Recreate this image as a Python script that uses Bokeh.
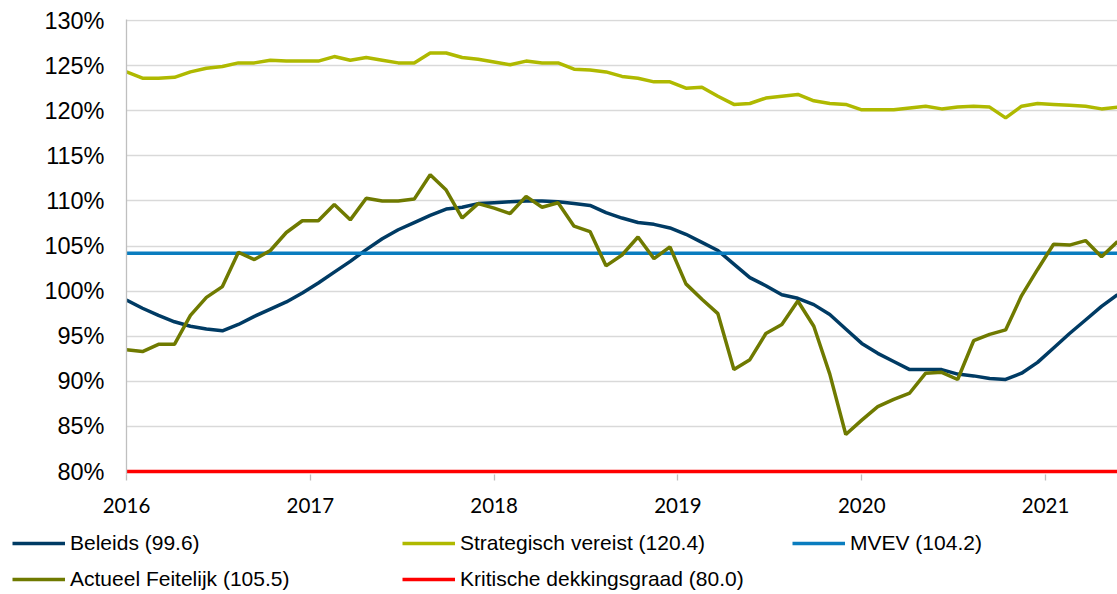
import numpy as np
from bokeh.plotting import figure
from bokeh.models import Range1d, FixedTicker, Legend, LegendItem
from bokeh.embed import file_html
from bokeh.resources import INLINE

# ---- data ----
beleids = [99.0, 98.1, 97.3, 96.6, 96.1, 95.8, 95.6, 96.3, 97.2, 98.0,
           98.8, 99.8, 100.9, 102.1, 103.3, 104.6, 105.8, 106.8, 107.6, 108.4,
           109.1, 109.3, 109.7, 109.8, 109.9, 110.0, 110.0, 109.9, 109.7, 109.5,
           108.7, 108.1, 107.6, 107.4, 107.0, 106.3, 105.4, 104.5, 103.0, 101.5,
           100.6, 99.6, 99.2, 98.5, 97.4, 95.8, 94.2, 93.1, 92.2, 91.3,
           91.3, 91.3, 90.8, 90.6, 90.3, 90.2, 90.9, 92.1, 93.7, 95.3,
           96.8, 98.3, 99.6]
strategisch = [124.3, 123.6, 123.6, 123.7, 124.3, 124.7, 124.9, 125.3, 125.3, 125.6,
               125.5, 125.5, 125.5, 126.0, 125.6, 125.9, 125.6, 125.3, 125.3, 126.4,
               126.4, 125.9, 125.7, 125.4, 125.1, 125.5, 125.3, 125.3, 124.6, 124.5,
               124.3, 123.8, 123.6, 123.2, 123.2, 122.5, 122.6, 121.6, 120.7, 120.8,
               121.4, 121.6, 121.8, 121.1, 120.8, 120.7, 120.1, 120.1, 120.1, 120.3,
               120.5, 120.2, 120.4, 120.5, 120.4, 119.2, 120.5, 120.8, 120.7, 120.6,
               120.5, 120.2, 120.4]
actueel = [93.5, 93.3, 94.1, 94.1, 97.3, 99.3, 100.5, 104.3, 103.5, 104.5,
           106.5, 107.8, 107.8, 109.6, 107.9, 110.3, 110.0, 110.0, 110.2, 112.9,
           111.2, 108.1, 109.7, 109.2, 108.6, 110.5, 109.3, 109.8, 107.2, 106.6,
           102.8, 104.0, 106.0, 103.6, 104.9, 100.8, 99.1, 97.5, 91.3, 92.4,
           95.3, 96.3, 98.9, 96.1, 90.8, 84.1, 85.7, 87.2, 88.0, 88.7,
           90.9, 91.0, 90.2, 94.5, 95.2, 95.7, 99.5, 102.4, 105.2, 105.1,
           105.6, 103.8, 105.5]
mvev_value = 104.2
kritisch_value = 80.0

series_names = ["Beleids (99.6)", "Strategisch vereist (120.4)", "MVEV (104.2)",
                "Actueel Feitelijk (105.5)", "Kritische dekkingsgraad (80.0)"]
series_colors = ["#003b64", "#afb900", "#0a7dbf", "#6f7a00", "#ff0000"]
x_ticks = [2016, 2017, 2018, 2019, 2020, 2021]
x_tick_labels = ["2016", "2017", "2018", "2019", "2020", "2021"]
y_ticks = [80, 85, 90, 95, 100, 105, 110, 115, 120, 125, 130]
y_tick_labels = ["80%", "85%", "90%", "95%", "100%", "105%", "110%", "115%", "120%", "125%", "130%"]

periods = np.arange(len(beleids))
xs = 2016 + periods / 11.5
mvev = [mvev_value] * len(xs)
kritisch = [kritisch_value] * len(xs)

MAIN_H = 526
LEG_H = 594 - MAIN_H

p = figure(width=1117, height=MAIN_H, output_backend="svg", toolbar_location=None,
           min_border_left=126, min_border_right=0, min_border_top=19,
           min_border_bottom=MAIN_H - 474)
p.x_range = Range1d(2016, float(xs[-1]))
p.y_range = Range1d(80 - 3 / 9.02, 130 + 1 / 9.02)
p.outline_line_color = None
p.background_fill_color = "white"

# axes
p.xaxis.ticker = FixedTicker(ticks=x_ticks)
p.xaxis.major_label_overrides = {t: l for t, l in zip(x_ticks, x_tick_labels)}
p.xaxis.axis_line_color = None
p.xaxis.major_tick_line_color = "#bfbfbf"
p.xaxis.major_tick_line_width = 1.3
p.xaxis.major_tick_out = 6
p.xaxis.major_tick_in = 0
p.xaxis.minor_tick_line_color = None
p.xaxis.major_label_standoff = 17
p.xaxis.major_label_text_font = "Lato"
p.xaxis.major_label_text_font_size = "20.5px"
p.xaxis.major_label_text_color = "#000000"

p.yaxis.ticker = FixedTicker(ticks=y_ticks)
p.yaxis.major_label_overrides = {t: l for t, l in zip(y_ticks, y_tick_labels)}
p.yaxis.axis_line_color = "#bfbfbf"
p.yaxis.axis_line_width = 1.3
p.yaxis.major_tick_line_color = None
p.yaxis.minor_tick_line_color = None
p.yaxis.major_tick_out = 0
p.yaxis.major_tick_in = 0
p.yaxis.major_label_standoff = 22
p.yaxis.major_label_text_font = "Liberation Sans"
p.yaxis.major_label_text_font_size = "23.5px"
p.yaxis.major_label_text_color = "#000000"

p.xgrid.grid_line_color = None
p.ygrid.grid_line_color = "#d9d9d9"
p.ygrid.grid_line_width = 1.3

# lines
lw = 3.5
series_values = [beleids, strategisch, mvev, actueel, kritisch]
for vals, col in zip(series_values, series_colors):
    p.line(xs, vals, line_color=col, line_width=lw)

# ---- legend strip below the chart (separate root, so its frame starts at x=0) ----
leg = figure(width=1117, height=LEG_H, output_backend="svg", toolbar_location=None,
             x_axis_type=None, y_axis_type=None,
             min_border_left=0, min_border_right=0, min_border_top=0, min_border_bottom=0,
             x_range=Range1d(0, 1), y_range=Range1d(0, 1))
leg.outline_line_color = None
leg.xgrid.grid_line_color = None
leg.ygrid.grid_line_color = None

ITEM_H = 26
row_of = [0, 0, 0, 1, 1]
col_of = [0, 1, 2, 0, 1]
row_centres = [543 - MAIN_H, 579 - MAIN_H]
col_lefts = [12, 402, 792]
for k in range(len(series_names)):
    # proxy renderer kept outside the visible range; only its legend glyph shows
    r = leg.line([-5, -4], [-5, -5], line_color=series_colors[k], line_width=lw)
    centre = row_centres[row_of[k]]
    vx = col_lefts[col_of[k]]
    vy = LEG_H - (centre + ITEM_H / 2)
    lg = Legend(items=[LegendItem(label=series_names[k], renderers=[r])], location=(vx, vy),
                orientation="vertical", padding=0, margin=0, spacing=0,
                glyph_width=53, glyph_height=ITEM_H, label_height=ITEM_H, label_standoff=5,
                border_line_color=None, background_fill_alpha=0,
                label_text_font="Liberation Sans", label_text_font_size="21px",
                label_text_color="#000000")
    leg.add_layout(lg, "center")

html = file_html([p, leg], INLINE)
open("out.html", "w").write(html)
